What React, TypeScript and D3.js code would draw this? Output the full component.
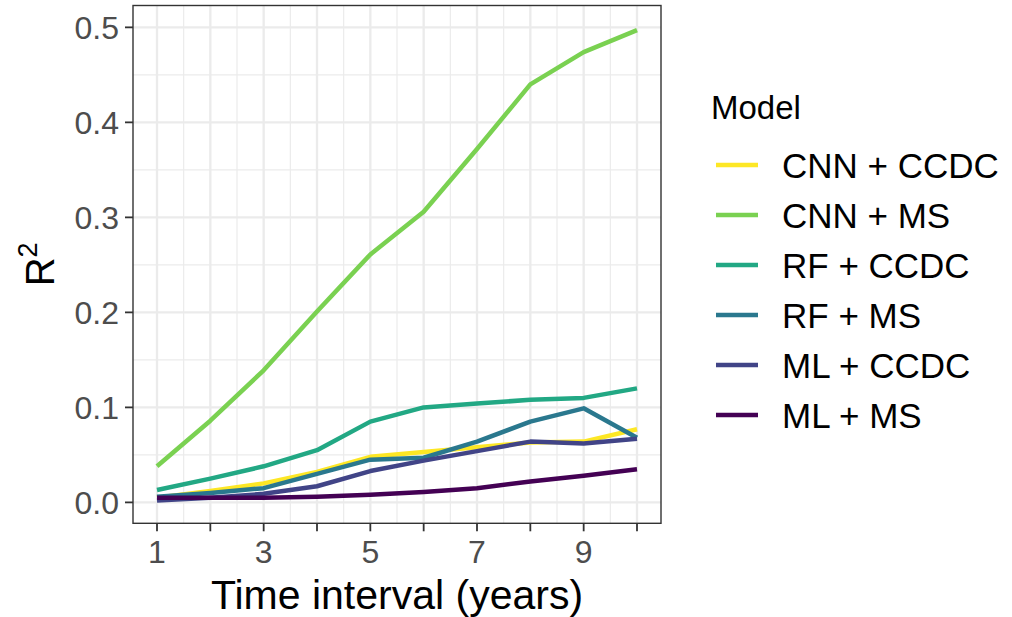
import React from 'react';
import * as d3 from 'd3';

const years = [1, 2, 3, 4, 5, 6, 7, 8, 9, 10];
const models = ['CNN + CCDC', 'CNN + MS', 'RF + CCDC', 'RF + MS', 'ML + CCDC', 'ML + MS'];
const colors = ['#FDE725', '#7AD151', '#22A884', '#2A788E', '#414487', '#440154'];

const cnnCcdc = [0.005, 0.012, 0.020, 0.032, 0.048, 0.053, 0.058, 0.063, 0.064, 0.077];
const cnnMs = [0.038, 0.086, 0.139, 0.201, 0.261, 0.306, 0.372, 0.440, 0.474, 0.497];
const rfCcdc = [0.013, 0.025, 0.038, 0.055, 0.085, 0.100, 0.104, 0.108, 0.110, 0.120];
const rfMs = [0.006, 0.010, 0.015, 0.030, 0.045, 0.047, 0.064, 0.085, 0.099, 0.068];
const mlCcdc = [0.002, 0.005, 0.009, 0.017, 0.033, 0.044, 0.054, 0.064, 0.062, 0.067];
const mlMs = [0.005, 0.005, 0.005, 0.006, 0.008, 0.011, 0.015, 0.022, 0.028, 0.035];

const seriesValues = [cnnCcdc, cnnMs, rfCcdc, rfMs, mlCcdc, mlMs];
const xTicks = [1, 3, 5, 7, 9];
const yTicks = [0, 0.1, 0.2, 0.3, 0.4, 0.5];

const W = 1012;
const H = 617;
const left = 133;
const right = 661;
const top = 5.5;
const bottom = 523.3;
const font = '"Liberation Sans", Arial, sans-serif';

export default function App() {
  const x = d3.scaleLinear().domain([0.55, 10.45]).range([left, right]);
  const y = d3.scaleLinear().domain([-0.022, 0.523]).range([bottom, top]);

  const line = d3.line<number>()
    .x((d, i) => x(years[i]))
    .y(d => y(d));

  // major at integers (x) / 0.1 (y), minor halfway between
  const xMajor = d3.range(1, 11);
  const xMinor = d3.range(0.5, 10.6, 1).filter(v => v > 0.55 && v < 10.45);
  const yMajor = yTicks;
  const yMinor = [0.05, 0.15, 0.25, 0.35, 0.45];

  return (
    <svg width={W} height={H} style={{ position: 'absolute', left: 0, top: 0, background: 'white' }}
      fontFamily={font}>
      <rect x={left} y={top} width={right - left} height={bottom - top} fill="white" />

      {/* grid */}
      <g stroke="#EBEBEB">
        {xMinor.map(v => <line key={'xm' + v} x1={x(v)} x2={x(v)} y1={top} y2={bottom} strokeWidth={1.2} />)}
        {yMinor.map(v => <line key={'ym' + v} y1={y(v)} y2={y(v)} x1={left} x2={right} strokeWidth={1.2} />)}
        {xMajor.map(v => <line key={'xM' + v} x1={x(v)} x2={x(v)} y1={top} y2={bottom} strokeWidth={2.3} />)}
        {yMajor.map(v => <line key={'yM' + v} y1={y(v)} y2={y(v)} x1={left} x2={right} strokeWidth={2.3} />)}
      </g>

      {/* lines */}
      {seriesValues.map((vals, i) => (
        <path key={models[i]} d={line(vals) || ''} fill="none" stroke={colors[i]}
          strokeWidth={4.5} strokeLinejoin="round" strokeLinecap="butt" />
      ))}

      {/* panel border */}
      <rect x={left} y={top} width={right - left} height={bottom - top} fill="none"
        stroke="#333333" strokeWidth={1.4} />

      {/* y axis */}
      {yTicks.map(v => (
        <g key={'yt' + v}>
          <line x1={left - 8} x2={left} y1={y(v)} y2={y(v)} stroke="#333333" strokeWidth={1.8} />
          <text x={left - 14} y={y(v)} dy="0.35em" textAnchor="end" fontSize={32} fill="#4D4D4D">
            {d3.format('.1f')(v)}
          </text>
        </g>
      ))}

      {/* x axis */}
      {xMajor.map(v => (
        <line key={'xt' + v} x1={x(v)} x2={x(v)} y1={bottom} y2={bottom + 8} stroke="#333333" strokeWidth={1.8} />
      ))}
      {xTicks.map(v => (
        <text key={'xl' + v} x={x(v)} y={563} textAnchor="middle" fontSize={32} fill="#4D4D4D">{v}</text>
      ))}

      <text x={(left + right) / 2} y={609} textAnchor="middle" fontSize={41} fill="black">
        Time interval (years)
      </text>
      <text transform={`translate(54, ${(top + bottom) / 2}) rotate(-90)`} textAnchor="middle" fontSize={40} fill="black">
        R<tspan fontSize={27} dy={-17}>2</tspan>
      </text>

      {/* legend */}
      <text x={711} y={119} fontSize={33} fill="black">Model</text>
      {models.map((m, i) => {
        const ky = 165 + i * 50;
        return (
          <g key={'lg' + m}>
            <line x1={716} x2={758} y1={ky} y2={ky} stroke={colors[i]} strokeWidth={4.5} />
            <text x={782} y={ky + 13} fontSize={35} fill="black">{m}</text>
          </g>
        );
      })}
    </svg>
  );
}
